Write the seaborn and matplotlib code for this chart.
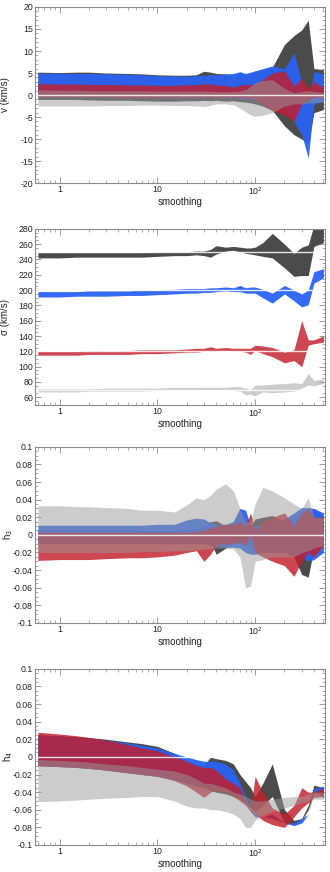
import numpy as np
import seaborn as sns
import matplotlib
matplotlib.use("Agg")
import matplotlib.pyplot as plt
from matplotlib.ticker import MultipleLocator, LogLocator, NullFormatter

# smoothing values (x axis, log)
smoothing = [0.6, 1, 1.5, 2, 3, 5, 7, 10, 15, 20, 25, 30, 35, 40, 50, 60, 70, 80, 90,
             100, 120, 150, 200, 250, 300, 350, 400, 500]

# ---- v (km/s) bands: dark gray, blue, red, light gray ----
v_dark_hi = [5.2, 5.1, 5.2, 5.2, 5.0, 4.9, 4.8, 4.6, 4.5, 4.5, 4.6, 5.4, 5.2, 4.9, 4.8, 4.3, 5.0, 4.6, 5.0,
             5.4, 5.8, 6.3, 11.5, 13.5, 14.8, 17.0, 6.0, 5.8]
v_dark_lo = [-1.0, -1.0, -1.0, -1.1, -1.2, -1.2, -1.3, -1.4, -1.4, -1.3, -1.3, -1.2, -1.3, -1.2, -1.4, -1.3, -1.5, -1.6, -1.8,
             -2.0, -2.5, -3.5, -7.0, -9.0, -10.0, -11.0, -4.0, -3.3]
v_blue_hi = [5.0, 4.9, 4.9, 4.9, 4.8, 4.7, 4.6, 4.4, 4.3, 4.3, 4.4, 4.5, 4.6, 4.6, 4.8, 4.9, 5.3, 4.9, 5.2,
             5.5, 6.0, 6.6, 6.0, 9.6, 3.0, -2.0, 5.3, 4.8]
v_blue_lo = [-0.4, -0.4, -0.4, -0.4, -0.4, -0.4, -0.4, -0.5, -0.5, -0.5, -0.5, -0.5, -0.5, -0.5, -0.6, -0.6, -0.7, -0.8, -0.8,
             -1.0, -1.5, -2.5, -3.0, -6.0, -9.0, -14.3, -2.0, -1.5]
v_red_hi = [2.6, 2.5, 2.5, 2.4, 2.4, 2.3, 2.3, 2.2, 2.2, 2.3, 2.4, 2.5, 2.5, 2.3, 2.2, 1.8, 2.2, 2.5, 2.3,
            2.5, 3.5, 5.0, 5.5, 2.0, 3.8, 1.5, 3.0, 1.8]
v_red_lo = [-0.4, -0.4, -0.4, -0.4, -0.4, -0.5, -0.5, -0.5, -0.5, -0.5, -0.5, -0.5, -0.5, -0.5, -0.5, -0.5, -0.6, -0.6, -0.7,
            -1.0, -2.0, -3.5, -4.5, -6.0, -2.0, -1.0, -0.6, -0.4]
v_light_hi = [1.2, 1.1, 1.1, 1.0, 1.0, 1.0, 1.0, 0.9, 0.9, 0.9, 0.9, 0.9, 0.9, 0.8, 0.8, 0.8, 0.9, 1.2, 2.0,
              2.8, 3.3, 3.5, 1.5, 0.5, 0.8, 1.0, 0.8, 0.6]
v_light_lo = [-2.5, -2.5, -2.5, -2.5, -2.4, -2.4, -2.3, -2.3, -2.4, -2.4, -2.5, -2.6, -2.3, -2.0, -2.0, -2.2, -3.0, -3.8, -4.5,
              -4.8, -4.6, -4.0, -2.5, -2.0, -2.0, -1.8, -1.8, -1.5]

# ---- sigma (km/s) ----
s_dark_hi = [249, 249, 249, 249, 249, 249, 249, 250, 250, 250, 251, 251, 253, 258, 256, 257, 256, 255, 255,
             256, 262, 274, 260, 248, 256, 259, 285, 285]
s_dark_lo = [242, 242, 243, 243, 243, 243, 243, 244, 245, 245, 246, 245, 243, 247, 251, 252, 250, 248, 247,
             246, 244, 242, 229, 218, 219, 219, 257, 262]
s_blue_hi = [198, 198, 198, 199, 199, 199, 200, 200, 201, 202, 202, 202, 203, 203, 204, 203, 206, 203, 204,
             204, 201, 196, 206, 200, 195, 200, 224, 228]
s_blue_lo = [191, 191, 192, 192, 192, 193, 193, 194, 195, 196, 196, 197, 197, 198, 199, 198, 198, 196, 196,
             196, 190, 183, 195, 186, 178, 181, 209, 216]
s_red_hi = [120, 120, 120, 121, 121, 121, 122, 122, 122, 123, 124, 124, 126, 124, 125, 124, 124, 124, 124,
            128, 127, 125, 119, 122, 160, 135, 135, 140]
s_red_lo = [115, 115, 115, 116, 116, 116, 117, 117, 118, 119, 119, 120, 120, 120, 121, 120, 120, 119, 116,
            121, 117, 113, 105, 108, 100, 128, 130, 132]
s_light_hi = [71, 71, 71, 71, 72, 72, 72, 72, 73, 73, 73, 73, 73, 73, 73, 74, 74, 72, 70,
              76, 76, 77, 78, 79, 78, 91, 82, 84]
s_light_lo = [67, 67, 67, 68, 68, 68, 68, 69, 69, 69, 69, 70, 70, 70, 70, 69, 68, 63, 64,
              62, 67, 66, 67, 68, 72, 76, 75, 78]
s_true = [250, 200, 120, 70]

# ---- h3 ----
h3_dark_hi = [0.006, 0.006, 0.006, 0.006, 0.006, 0.006, 0.005, 0.005, 0.005, 0.006, 0.007, 0.010, 0.015, 0.016, 0.010,
              0.015, 0.030, 0.015, 0.010, 0.018, 0.020, 0.022, 0.015, 0.020, 0.025, 0.020, 0.030, 0.022]
h3_dark_lo = [-0.004, -0.004, -0.004, -0.004, -0.004, -0.004, -0.004, -0.004, -0.004, -0.004, -0.004, -0.005, -0.008,
              -0.022, -0.015, -0.010, -0.008, -0.010, -0.012, -0.015, -0.015, -0.018, -0.020, -0.025, -0.045, -0.048,
              -0.015, -0.010]
h3_blue_hi = [0.011, 0.011, 0.011, 0.011, 0.011, 0.011, 0.011, 0.012, 0.012, 0.017, 0.019, 0.018, 0.014, 0.012, 0.012,
              0.015, 0.030, 0.028, 0.010, 0.010, 0.012, 0.015, 0.018, 0.025, 0.031, 0.031, 0.030, 0.025]
h3_blue_lo = [-0.010, -0.010, -0.010, -0.010, -0.010, -0.010, -0.010, -0.010, -0.010, -0.010, -0.010, -0.010, -0.012,
              -0.012, -0.014, -0.014, -0.015, -0.020, -0.022, -0.022, -0.020, -0.020, -0.020, -0.022, -0.025, -0.030,
              -0.028, -0.020]
h3_red_hi = [0.003, 0.003, 0.003, 0.003, 0.003, 0.003, 0.003, 0.003, 0.003, 0.003, 0.004, 0.005, 0.008, 0.010, 0.012,
             0.012, 0.015, 0.010, 0.025, 0.005, 0.015, 0.020, 0.025, 0.010, 0.025, 0.030, 0.020, 0.020]
h3_red_lo = [-0.029, -0.028, -0.028, -0.028, -0.027, -0.026, -0.026, -0.025, -0.023, -0.020, -0.018, -0.030, -0.022,
             -0.012, -0.010, -0.010, -0.008, -0.012, 0.000, -0.020, -0.025, -0.030, -0.035, -0.047, -0.030, -0.020,
             -0.025, -0.012]
h3_light_hi = [0.033, 0.033, 0.032, 0.032, 0.031, 0.030, 0.028, 0.028, 0.026, 0.034, 0.042, 0.040, 0.045, 0.052, 0.058,
               0.050, 0.030, 0.015, 0.015, 0.035, 0.054, 0.050, 0.042, 0.035, 0.030, 0.042, 0.020, 0.020]
h3_light_lo = [-0.020, -0.020, -0.020, -0.020, -0.020, -0.020, -0.019, -0.019, -0.018, -0.018, -0.017, -0.016, -0.016,
               -0.015, -0.015, -0.016, -0.025, -0.060, -0.058, -0.030, -0.028, -0.025, -0.025, -0.025, -0.020, -0.018,
               -0.015, -0.012]

# ---- h4 ----
h4_dark_hi = [0.025, 0.024, 0.023, 0.022, 0.020, 0.017, 0.015, 0.012, 0.004, -0.004, -0.008, -0.010, 0.000, -0.002,
              -0.004, -0.008, -0.020, -0.028, -0.035, -0.045, -0.030, -0.008, -0.060, -0.072, -0.070, -0.055, -0.032,
              -0.035]
h4_dark_lo = [-0.010, -0.011, -0.012, -0.013, -0.015, -0.018, -0.020, -0.022, -0.026, -0.030, -0.033, -0.035, -0.038,
              -0.040, -0.042, -0.045, -0.048, -0.052, -0.058, -0.062, -0.055, -0.045, -0.075, -0.077, -0.072, -0.060,
              -0.040, -0.045]
h4_blue_hi = [0.025, 0.024, 0.022, 0.021, 0.019, 0.016, 0.013, 0.010, 0.004, 0.000, -0.003, -0.005, -0.005, -0.005,
              -0.008, -0.015, -0.030, -0.045, -0.060, -0.065, -0.068, -0.070, -0.075, -0.075, -0.070, -0.065, -0.036,
              -0.033]
h4_blue_lo = [-0.010, -0.011, -0.012, -0.013, -0.015, -0.018, -0.020, -0.022, -0.026, -0.030, -0.032, -0.034, -0.035,
              -0.035, -0.032, -0.040, -0.045, -0.050, -0.062, -0.068, -0.068, -0.065, -0.075, -0.078, -0.075, -0.065,
              -0.040, -0.040]
h4_red_hi = [0.028, 0.026, 0.024, 0.022, 0.019, 0.014, 0.010, 0.007, 0.000, -0.005, -0.010, -0.012, -0.012, -0.015,
             -0.025, -0.030, -0.035, -0.050, -0.060, -0.022, -0.040, -0.058, -0.065, -0.055, -0.035, -0.040, -0.040,
             -0.035]
h4_red_lo = [-0.010, -0.011, -0.012, -0.013, -0.015, -0.018, -0.020, -0.022, -0.027, -0.033, -0.040, -0.046, -0.040,
             -0.038, -0.040, -0.045, -0.050, -0.055, -0.062, -0.065, -0.072, -0.077, -0.080, -0.068, -0.058, -0.052,
             -0.046, -0.045]
h4_light_hi = [-0.003, -0.004, -0.005, -0.006, -0.008, -0.010, -0.012, -0.014, -0.016, -0.020, -0.025, -0.030, -0.030,
               -0.032, -0.035, -0.040, -0.042, -0.045, -0.048, -0.050, -0.050, -0.048, -0.046, -0.045, -0.045, -0.042,
               -0.040, -0.040]
h4_light_lo = [-0.051, -0.050, -0.049, -0.048, -0.047, -0.046, -0.045, -0.045, -0.050, -0.056, -0.058, -0.058, -0.060,
               -0.060, -0.062, -0.065, -0.070, -0.080, -0.080, -0.072, -0.066, -0.062, -0.058, -0.055, -0.052, -0.050,
               -0.048, -0.048]

sns.set_theme(style="ticks")
plt.rcParams['font.family'] = ['Liberation Sans', 'DejaVu Sans']
plt.rcParams['mathtext.fontset'] = 'custom'
plt.rcParams['mathtext.rm'] = 'Liberation Sans'
plt.rcParams['mathtext.it'] = 'Liberation Sans'

colors = ["#4b4b4b", "#2a62f2", "#c41e2a", "#9a9a9a"]
alphas = [1.0, 0.95, 0.82, 0.5]
edge = "#8a8a8a"

fig = plt.figure(figsize=(3.3, 8.72), dpi=100)
left, width, height = 0.106, 0.879, 0.202
bottoms = [0.790, 0.5356, 0.2856, 0.031]

panels = [
    dict(bands=[(v_dark_lo, v_dark_hi), (v_blue_lo, v_blue_hi), (v_red_lo, v_red_hi), (v_light_lo, v_light_hi)],
         ylim=(-20, 20), minor=1, label="v (km/s)", lines=[0], labx=-0.085,
         ticks=list(range(-20, 21, 5)), fmt=lambda t: "%d" % t),
    dict(bands=[(s_dark_lo, s_dark_hi), (s_blue_lo, s_blue_hi), (s_red_lo, s_red_hi), (s_light_lo, s_light_hi)],
         ylim=(50, 280), minor=5, label="σ (km/s)", lines=s_true, labx=-0.085,
         ticks=list(range(60, 281, 20)), fmt=lambda t: "%d" % t),
    dict(bands=[(h3_dark_lo, h3_dark_hi), (h3_blue_lo, h3_blue_hi), (h3_red_lo, h3_red_hi), (h3_light_lo, h3_light_hi)],
         ylim=(-0.1, 0.1), minor=0.005, label="h$_3$", lines=[0], labx=-0.07,
         ticks=[round(-0.1 + 0.02 * i, 2) for i in range(11)], fmt=lambda t: ("%g" % t)),
    dict(bands=[(h4_dark_lo, h4_dark_hi), (h4_blue_lo, h4_blue_hi), (h4_red_lo, h4_red_hi), (h4_light_lo, h4_light_hi)],
         ylim=(-0.1, 0.1), minor=0.005, label="h$_4$", lines=[0], labx=-0.07,
         ticks=[round(-0.1 + 0.02 * i, 2) for i in range(11)], fmt=lambda t: ("%g" % t)),
]

for p, b in zip(panels, bottoms):
    ax = fig.add_axes([left, b, width, height])
    ax.set_facecolor("white")
    for (lo, hi), c, a in zip(p["bands"], colors, alphas):
        ax.fill_between(smoothing, lo, hi, color=c, alpha=a, linewidth=0)
    for yv in p["lines"]:
        ax.axhline(yv, color="white", lw=1.0, alpha=0.85)
    ax.set_xscale("log")
    ax.set_xlim(0.56, 520)
    ax.set_ylim(*p["ylim"])
    ax.set_xticks([1, 10, 100])
    ax.set_xticklabels(["1", "10", "10$^2$"])
    ax.xaxis.set_minor_locator(LogLocator(base=10, subs=np.arange(2, 10)))
    ax.xaxis.set_minor_formatter(NullFormatter())
    ax.set_yticks(p["ticks"])
    ax.set_yticklabels([p["fmt"](t) for t in p["ticks"]])
    ax.yaxis.set_minor_locator(MultipleLocator(p["minor"]))
    ax.tick_params(which="both", direction="in", top=True, right=True, color=edge,
                   labelsize=6.3, labelcolor="#222222", pad=1.5)
    ax.tick_params(which="major", length=4, width=0.6)
    ax.tick_params(which="minor", length=2, width=0.5)
    for sp in ax.spines.values():
        sp.set_color(edge)
        sp.set_linewidth(0.8)
    ax.set_xlabel("smoothing", fontsize=7, color="#222222", labelpad=0)
    ax.set_ylabel(p["label"], fontsize=7, color="#222222")
    ax.yaxis.set_label_coords(p["labx"], 0.5)
    ax.grid(False)

fig.savefig("out.png", dpi=100)
